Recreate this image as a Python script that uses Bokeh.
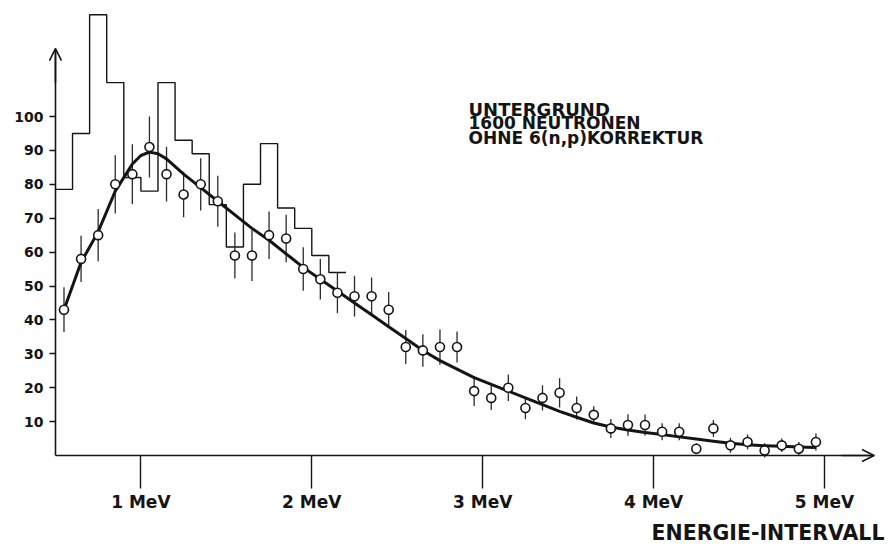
from bokeh.plotting import figure
from bokeh.models import Range1d, FixedTicker, Arrow, OpenHead, Label, LinearAxis
from bokeh.embed import file_html
from bokeh.resources import INLINE

# ---- data ----
energy = [0.55, 0.65, 0.75, 0.85, 0.95, 1.05, 1.15, 1.25, 1.35, 1.45,
          1.55, 1.65, 1.75, 1.85, 1.95, 2.05, 2.15, 2.25, 2.35, 2.45,
          2.55, 2.65, 2.75, 2.85, 2.95, 3.05, 3.15, 3.25, 3.35, 3.45,
          3.55, 3.65, 3.75, 3.85, 3.95, 4.05, 4.15, 4.25, 4.35, 4.45,
          4.55, 4.65, 4.75, 4.85, 4.95]
counts = [43, 58, 65, 80, 83, 91, 83, 77, 80, 75,
          59, 59, 65, 64, 55, 52, 48, 47, 47, 43,
          32, 31, 32, 32, 19, 17, 20, 14, 17, 18.5,
          14, 12, 8, 9, 9, 7, 7, 2, 8, 3,
          4, 1.5, 3, 2, 4]
errors = [6.6, 6.8, 7.7, 8.6, 8.8, 9.0, 8.1, 6.7, 7.7, 7.5,
          6.8, 7.5, 7.0, 7.0, 6.4, 6.0, 6.0, 6.0, 5.5, 5.2,
          5.0, 4.8, 5.2, 4.6, 4.4, 3.6, 3.9, 3.3, 3.7, 4.3,
          3.4, 2.5, 2.8, 3.2, 3.1, 2.5, 2.5, 1.6, 2.5, 2.2,
          2.2, 2.1, 2.0, 2.0, 2.5]

fit_energy = [0.55, 0.65, 0.75, 0.85, 0.95, 1.0, 1.05, 1.1, 1.15, 1.25, 1.35, 1.45,
              1.55, 1.65, 1.75, 1.85, 1.95, 2.05, 2.15, 2.25, 2.35, 2.45,
              2.55, 2.65, 2.75, 2.85, 2.95, 3.05, 3.15, 3.25, 3.35, 3.45,
              3.55, 3.65, 3.75, 3.85, 3.95, 4.05, 4.15, 4.25, 4.35, 4.45,
              4.55, 4.65, 4.75, 4.85, 4.95]
fit_counts = [43, 57, 66, 78, 86, 88.5, 89.5, 89, 87.5, 83, 79, 75,
              71, 67, 63.5, 59.5, 55.5, 52, 48.5, 45, 41.5, 38,
              34.5, 31, 28, 25.5, 23, 21, 19, 17, 15, 13,
              11.3, 9.6, 8.4, 7.5, 6.8, 6.2, 5.5, 4.9, 4.2, 3.6,
              3.2, 2.9, 2.7, 2.5, 2.4]

hist_edges = [0.5, 0.6, 0.7, 0.8, 0.9, 1.0, 1.1, 1.2, 1.3, 1.4,
              1.5, 1.6, 1.7, 1.8, 1.9, 2.0, 2.1, 2.2]
hist_counts = [78.5, 95, 130, 110, 82, 78, 110, 93, 89, 74,
               61.5, 80, 92, 73, 67, 59, 54]

y_ticks = [10, 20, 30, 40, 50, 60, 70, 80, 90, 100]
y_tick_labels = ["10", "20", "30", "40", "50", "60", "70", "80", "90", "100"]
x_ticks = [1, 2, 3, 4, 5]
x_tick_labels = ["1 MeV", "2 MeV", "3 MeV", "4 MeV", "5 MeV"]

legend_lines = ["UNTERGRUND", "1600 NEUTRONEN", "OHNE 6(n,p)KORREKTUR"]
x_title = "ENERGIE-INTERVALL"

# ---- figure ----
FONT = "DejaVu Sans"
INK = "#141414"

p = figure(width=889, height=544, output_backend="svg", toolbar_location=None,
           title=None, x_axis_location=None, y_axis_location=None,
           x_range=Range1d(0.1785, 5.3805), y_range=Range1d(-26.25, 134.22),
           min_border=0)
p.outline_line_color = None
p.xgrid.grid_line_color = None
p.ygrid.grid_line_color = None
p.background_fill_color = "white"

# y axis (fixed at E = 0.5)
yax = LinearAxis(fixed_location=0.5)
yax.ticker = FixedTicker(ticks=y_ticks)
yax.major_label_overrides = dict(zip(y_ticks, y_tick_labels))
yax.bounds = (0, 120)
yax.axis_line_color = INK
yax.axis_line_width = 1.6
yax.major_tick_out = 6
yax.major_tick_in = 0
yax.major_tick_line_width = 1.6
yax.major_tick_line_color = INK
yax.minor_tick_line_color = None
yax.major_label_standoff = 6
yax.major_label_text_font = FONT
yax.major_label_text_font_style = "bold"
yax.major_label_text_font_size = "14px"
yax.major_label_text_color = INK
p.add_layout(yax, "left")

# x axis (fixed at 0)
xax = LinearAxis(fixed_location=0)
xax.ticker = FixedTicker(ticks=x_ticks)
xax.major_label_overrides = dict(zip(x_ticks, x_tick_labels))
xax.bounds = (0.5, 5.29)
xax.axis_line_color = INK
xax.axis_line_width = 1.6
xax.major_tick_out = 33
xax.major_tick_in = 0
xax.major_tick_line_width = 1.4
xax.major_tick_line_color = INK
xax.minor_tick_line_color = None
xax.major_label_standoff = 3
xax.major_label_text_font = FONT
xax.major_label_text_font_style = "bold"
xax.major_label_text_font_size = "17px"
xax.major_label_text_color = INK
p.add_layout(xax, "below")

# arrow heads on the axes
p.add_layout(Arrow(end=OpenHead(size=12, line_width=1.6, line_color=INK),
                   x_start=0.5, y_start=110, x_end=0.5, y_end=120,
                   line_color=INK, line_width=1.6))
p.add_layout(Arrow(end=OpenHead(size=12, line_width=1.6, line_color=INK),
                   x_start=5.1, y_start=0, x_end=5.29, y_end=0,
                   line_color=INK, line_width=1.6))

# histogram (step line)
hist_y = hist_counts + [hist_counts[-1]]
p.step(x=hist_edges, y=hist_y, mode="after", line_color=INK, line_width=1.4)

# error bars
lo = [c - e for c, e in zip(counts, errors)]
hi = [c + e for c, e in zip(counts, errors)]
p.segment(x0=energy, y0=lo, x1=energy, y1=hi, line_color="#2a2a2a", line_width=1.3)

# fit curve
p.line(fit_energy, fit_counts, line_color=INK, line_width=3, line_join="round")

# data points
p.scatter(energy, counts, marker="circle", size=9, fill_color="white",
          line_color=INK, line_width=1.6)

# legend text
legend_y = [102.1, 98.0, 93.8]
legend_sizes = ["18px", "17px", "17px"]
for txt, yy, fs in zip(legend_lines, legend_y, legend_sizes):
    p.add_layout(Label(x=2.917, y=yy, text=txt, text_font=FONT,
                       text_font_style="bold", text_font_size=fs,
                       text_color=INK, text_baseline="alphabetic",
                       text_align="left"))

# x title
p.add_layout(Label(x=5.351, y=-23.0, text=x_title, text_font=FONT,
                   text_font_style="bold", text_font_size="20.5px",
                   text_color=INK, text_baseline="alphabetic",
                   text_align="right"))

open("out.html", "w").write(file_html(p, INLINE))
